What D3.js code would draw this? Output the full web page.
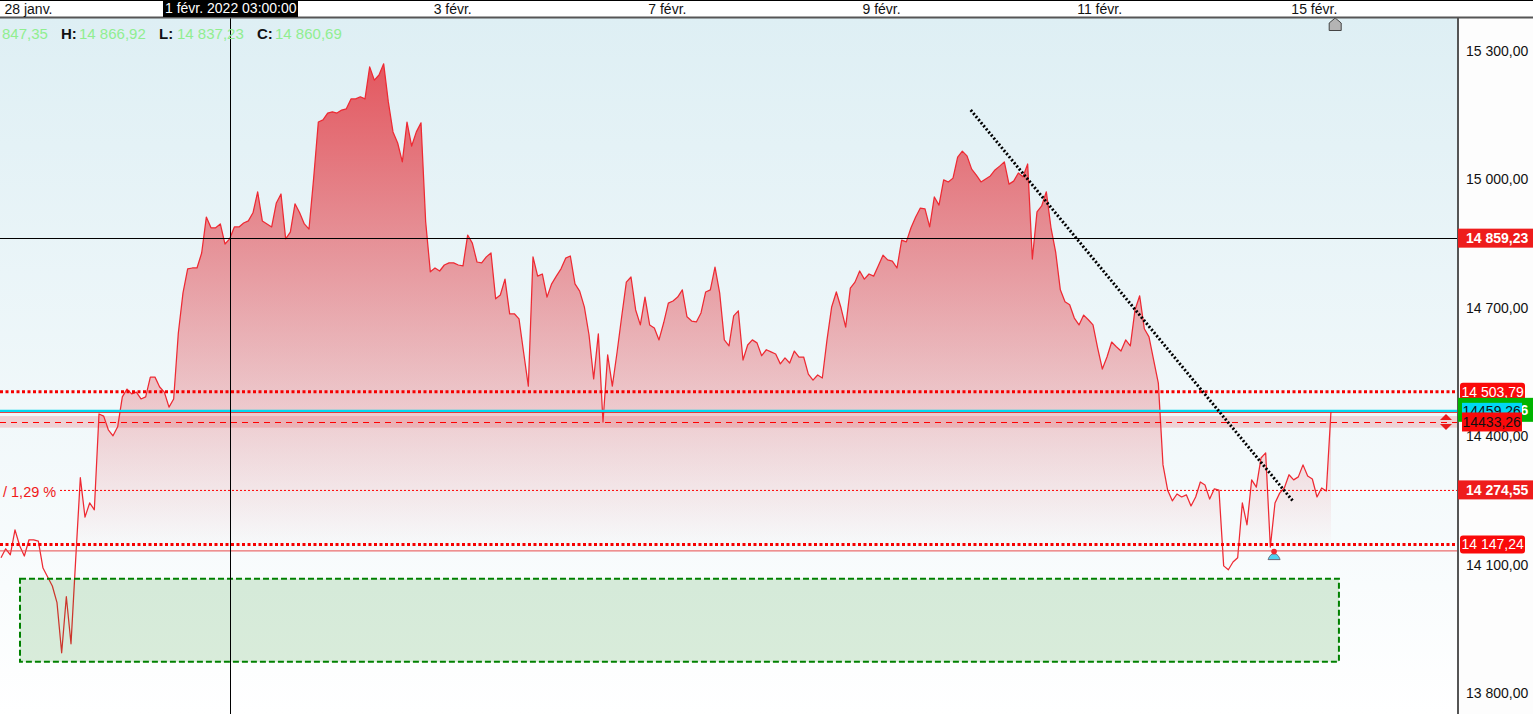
<!DOCTYPE html>
<html lang="fr">
<head>
<meta charset="utf-8">
<title>Chart</title>
<script src="https://cdn.jsdelivr.net/npm/d3@7/dist/d3.min.js"></script>
<style>
html,body{margin:0;padding:0;background:#fff;overflow:hidden}
svg{display:block;font-family:"Liberation Sans",Arial,sans-serif}
</style>
</head>
<body>
<svg id="chart" width="1533" height="714"></svg>
<script>
// Hourly closes, one per trading bar
const closes = [14116,14137,14123,14181,14144,14120,14158,14158,14155,14092,14071,14050,14011,13894,14025,13915,14111,14303,14211,14244,
14228,14452,14447,14415,14401,14422,14492,14510,14499,14503,14487,14492,14538,14538,14515,14503,14468,14487,14641,14735,
14791,14793,14793,14828,14912,14887,14887,14896,14849,14861,14889,14889,14898,14903,14922,14971,14903,14896,14889,14945,
14966,14861,14877,14943,14922,14896,14884,15003,15134,15139,15155,15158,15155,15162,15165,15188,15188,15193,15188,15263,
15232,15244,15270,15181,15111,15085,15041,15134,15078,15111,15132,14901,14784,14793,14786,14800,14805,14805,14800,14798,
14870,14851,14807,14805,14819,14828,14721,14730,14767,14686,14686,14674,14595,14517,14819,14774,14779,14725,14756,14774,
14791,14816,14821,14756,14739,14702,14637,14534,14639,14433,14590,14517,14595,14679,14760,14772,14695,14660,14725,14660,
14653,14625,14665,14711,14716,14725,14742,14679,14669,14667,14688,14737,14742,14795,14735,14625,14611,14681,14693,14578,
14613,14625,14618,14588,14602,14597,14592,14569,14583,14571,14599,14585,14585,14545,14531,14543,14536,14625,14702,14737,
14700,14655,14746,14760,14786,14767,14779,14774,14798,14823,14812,14809,14793,14858,14854,14887,14912,14933,14931,14889,
14959,14940,14999,14994,15003,15052,15066,15055,15024,15010,14994,15001,15008,15022,15031,15041,14989,14996,15015,15006,
15036,14814,14924,14938,14971,14887,14830,14742,14714,14707,14676,14660,14683,14672,14660,14606,14557,14585,14620,14609,
14599,14625,14611,14695,14728,14651,14632,14578,14524,14333,14274,14249,14265,14258,14263,14237,14258,14293,14286,14253,
14277,14274,14097,14088,14106,14116,14244,14193,14298,14281,14349,14361,14141,14244,14267,14279,14310,14298,14305,14333,
14307,14300,14258,14279,14272,14459];

const priceTicks = [15300,15000,14700,14400,14100,13800];
const dateTickBars = [0.64,92.6,138.6,184.5,230.5,276.4];
const dateTickLabels = ["28 janv.","3 févr.","7 févr.","9 févr.","11 févr.","15 févr."];
const crossBar = 49;
const crossPrice = 14859.23;
const crossDateLabel = "1 févr. 2022 03:00:00";
const legendNames = ["H:","L:","C:"];
const legendValues = ["14 866,92","14 837,23","14 860,69"];
const legendOpen = "847,35";
const stopLevels = [14503.79,14147.24];
const lastPrice = 14459.26;
const entryPrice = 14433.26;
const entryBand = [14420,14447];
const midPrice = 14274.55;
const areaBase = 14132;
const trendBars = [207.8,276.8];
const trendPrices = [15162,14249];
const zoneBars = [4.07,286.7];
const zonePrices = [14067,13873];

const W = 1533, H = 714, plotRight = 1458, headerH = 18;
const x = d3.scaleLinear().domain([0,285]).range([1,1331]);
const y = d3.scaleLinear().domain([15300,13800]).range([51,693]);
const fr = d3.formatLocale({decimal:",",thousands:"\u00a0",grouping:[3],currency:["","€"]});
const fmt = fr.format(",.2f");
const svg = d3.select("#chart");
const defs = svg.append("defs");

const bg = defs.append("linearGradient").attr("id","bg").attr("x1",0).attr("x2",0).attr("y1",0).attr("y2",1);
bg.append("stop").attr("offset",0).attr("stop-color","#deeff4");
bg.append("stop").attr("offset",1).attr("stop-color","#ffffff");
const ag = defs.append("linearGradient").attr("id","areaFill").attr("gradientUnits","userSpaceOnUse")
  .attr("x1",0).attr("x2",0).attr("y1",y(15270)).attr("y2",y(areaBase));
ag.append("stop").attr("offset",0).attr("stop-color","#e4474f").attr("stop-opacity",.9);
ag.append("stop").attr("offset",1).attr("stop-color","#e4474f").attr("stop-opacity",0);

svg.append("rect").attr("width",W).attr("height",H).attr("fill","#fdfdfd");
svg.append("rect").attr("y",headerH).attr("width",plotRight).attr("height",H-headerH).attr("fill","url(#bg)");

const hline = (p,x0=0) => svg.append("line").attr("x1",x0).attr("x2",plotRight).attr("y1",y(p)).attr("y2",y(p));

// area
svg.append("path").datum(closes)
  .attr("fill","url(#areaFill)")
  .attr("d",d3.area().x((d,i)=>x(i)).y0(y(areaBase)).y1(d=>y(d)));

// entry band
svg.append("rect").attr("x",0).attr("width",plotRight)
  .attr("y",y(entryBand[1])).attr("height",y(entryBand[0])-y(entryBand[1]))
  .attr("fill","#e4474f").attr("opacity",.22);

// price line
svg.append("path").datum(closes)
  .attr("fill","none").attr("stroke","#ee2a33").attr("stroke-width",1.25)
  .attr("stroke-linejoin","round")
  .attr("d",d3.line().x((d,i)=>x(i)).y(d=>y(d)));

// levels
hline(areaBase).attr("stroke","#e84a4a").attr("stroke-width",1);
hline(lastPrice).attr("stroke","#e02020").attr("stroke-width",1).attr("transform","translate(0,1.5)");
hline(lastPrice).attr("stroke","#00d8f0").attr("stroke-width",2.4);
hline(entryPrice).attr("stroke","#ff0000").attr("stroke-width",1).attr("stroke-dasharray","6,5").attr("transform","translate(0,.54)");
hline(midPrice,60).attr("stroke","#ff0000").attr("stroke-width",1).attr("stroke-dasharray","2,2").attr("transform","translate(0,.54)");
stopLevels.forEach(p=>hline(p).attr("stroke","#f50000").attr("stroke-width",3).attr("stroke-dasharray","3,2.5"));

// green zone
svg.append("rect")
  .attr("x",x(zoneBars[0])).attr("width",x(zoneBars[1])-x(zoneBars[0]))
  .attr("y",y(zonePrices[0])).attr("height",y(zonePrices[1])-y(zonePrices[0]))
  .attr("fill","#008000").attr("fill-opacity",.14)
  .attr("stroke","#008000").attr("stroke-width",2).attr("stroke-dasharray","6,3");

// trend line
svg.append("line")
  .attr("x1",x(trendBars[0])).attr("y1",y(trendPrices[0]))
  .attr("x2",x(trendBars[1])).attr("y2",y(trendPrices[1]))
  .attr("stroke","#000").attr("stroke-width",3).attr("stroke-dasharray","2,2");

// crosshair (drawn at the cursor row, just above the scale position of its tag)
hline(crossPrice).attr("stroke","#000").attr("stroke-width",1).attr("shape-rendering","crispEdges").attr("transform","translate(0,-1.5)");
svg.append("line").attr("x1",x(crossBar)+.5).attr("x2",x(crossBar)+.5).attr("y1",headerH).attr("y2",H)
  .attr("stroke","#000").attr("stroke-width",1).attr("shape-rendering","crispEdges");

// percent label
svg.append("text").attr("x",3).attr("y",y(midPrice)+7).attr("font-size",14.5).attr("fill","#f01818").text("/ 1,29 %");

// markers
svg.append("path").attr("transform",`translate(${x(285.9)},${headerH})`)
  .attr("d","M0,0L6,5V12.5H-6V5Z").attr("fill","#b4b4b4").attr("stroke","#444").attr("stroke-width",1);
const mkY = y(14100)-5;
svg.append("path").attr("transform",`translate(${x(272.8)},${mkY})`)
  .attr("d","M-6,0C-5,-3 -3,-6 0,-6C3,-6 5,-3 6,0Z").attr("fill","#4fd2f2").attr("stroke","#667").attr("stroke-width",1);
svg.append("circle").attr("cx",x(272.8)).attr("cy",mkY-8).attr("r",2.8).attr("fill","#f02a30");

// axis panel
svg.append("line").attr("x1",plotRight).attr("x2",plotRight).attr("y1",headerH).attr("y2",H)
  .attr("stroke","#555").attr("stroke-width",2);

// price axis
const yAxis = svg.append("g").attr("transform",`translate(${plotRight},0)`)
  .call(d3.axisRight(y).tickValues(priceTicks).tickSize(0).tickPadding(8).tickFormat(fmt));
yAxis.select(".domain").remove();
yAxis.selectAll("text").attr("font-size",14).attr("font-family","Liberation Sans").attr("fill","#111");

// price tags
const tag = (p,x0,w,h,fill,txt,color,bold,rx,tx,dyy=0) => {
  svg.append("rect").attr("x",x0).attr("y",y(p)-h/2+dyy).attr("width",w).attr("height",h).attr("fill",fill).attr("rx",rx);
  svg.append("text").attr("x",tx).attr("y",y(p)+5+dyy).attr("font-size",14).attr("fill",color)
    .attr("font-weight",bold?"bold":"normal").text(txt);
};
tag(crossPrice,1458,75,19,"#ee1c1c",fmt(crossPrice),"#fff",true,0,1466,-1.5);
tag(midPrice,1458,75,19,"#ee1c1c",fmt(midPrice),"#fff",true,0,1466);
stopLevels.forEach(p=>tag(p,1460,65,18,"#fa0a0a",fmt(p),"#fff",false,3,1461.5));
tag(lastPrice,1458,75,24,"#00b400",fmt(lastPrice),"#fff",true,0,1466,-1);
tag(lastPrice,1462,60,16,"#00d8f5",String(lastPrice).replace(".",","),"#111",false,0,1462.5);
tag(entryPrice,1462,60,19,"#fa0a0a",String(entryPrice).replace(".",","),"#111",false,0,1462.5);

// entry arrows
const ax = 1446, ay = y(entryPrice);
svg.append("path").attr("d",`M${ax-6},${ay-2}L${ax},${ay-8}L${ax+6},${ay-2}Z`).attr("fill","#e81c1c");
svg.append("path").attr("d",`M${ax-6},${ay+2}L${ax},${ay+8}L${ax+6},${ay+2}Z`).attr("fill","#e81c1c");

// header
svg.append("rect").attr("width",W).attr("height",headerH).attr("fill","#fff");
svg.append("line").attr("x1",0).attr("x2",W).attr("y1",.5).attr("y2",.5).attr("stroke","#000");
svg.append("line").attr("x1",0).attr("x2",W).attr("y1",headerH-.5).attr("y2",headerH-.5).attr("stroke","#555").attr("stroke-width",2);

const xTick = d3.scaleOrdinal().domain(dateTickBars).range(dateTickLabels);
const xAxis = svg.append("g")
  .call(d3.axisBottom(x).tickValues(dateTickBars).tickSize(0).tickPadding(0).tickFormat(d=>xTick(d)));
xAxis.select(".domain").remove();
xAxis.selectAll("text").attr("font-size",14).attr("font-family","Liberation Sans").attr("fill","#111")
  .attr("text-anchor","start").attr("dy",null).attr("y",14);

svg.append("rect").attr("x",163).attr("y",0).attr("width",135).attr("height",17).attr("fill","#000");
svg.append("text").attr("x",165).attr("y",13).attr("font-size",14).attr("fill","#fff").text(crossDateLabel);

// legend
const legendG = svg.append("g").attr("font-size",15);
legendG.append("text").attr("x",2).attr("y",39).attr("fill","#90ee90").text(legendOpen);
const legendNameX = [61,159,257], legendValX = [79,177,275];
legendNames.forEach((n,i)=>{
  legendG.append("text").attr("x",legendNameX[i]).attr("y",39).attr("font-weight","bold").attr("fill","#111").text(n);
  legendG.append("text").attr("x",legendValX[i]).attr("y",39).attr("fill","#90ee90").text(legendValues[i]);
});
</script>
</body>
</html>
